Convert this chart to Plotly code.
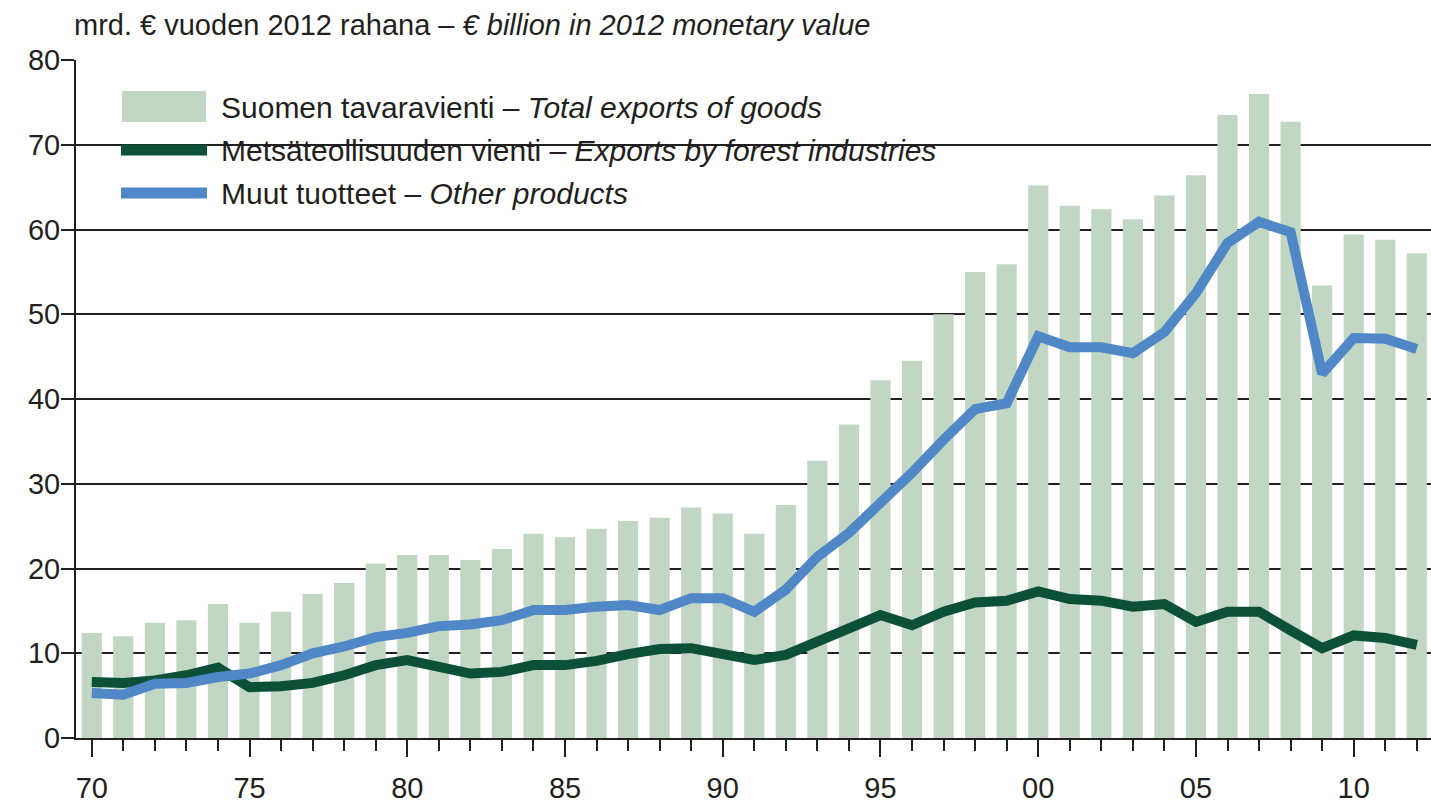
import plotly.graph_objects as go

# vuodet ja sarjat (mrd. € vuoden 2012 rahana)
vuodet = list(range(1970, 2013))

tavaravienti = [12.4, 12.0, 13.6, 13.9, 15.8, 13.6, 14.9, 17.0, 18.3, 20.6,
                21.6, 21.6, 21.0, 22.3, 24.1, 23.7, 24.7, 25.6, 26.0, 27.2,
                26.5, 24.1, 27.5, 32.7, 37.0, 42.2, 44.5, 50.0, 55.0, 55.9,
                65.2, 62.8, 62.4, 61.2, 64.0, 66.4, 73.5, 76.0, 72.7, 53.4,
                59.4, 58.8, 57.2]

metsateollisuus = [6.6, 6.5, 6.8, 7.4, 8.3, 6.0, 6.1, 6.5, 7.4, 8.6,
                   9.2, 8.4, 7.6, 7.8, 8.6, 8.6, 9.1, 9.9, 10.5, 10.6,
                   10.0, 9.2, 9.8, 11.3, 12.8, 14.5, 13.3, 14.9, 16.0, 16.2,
                   17.3, 16.4, 16.2, 15.5, 15.8, 13.7, 14.9, 14.9, 12.7, 10.6,
                   12.1, 11.8, 11.0]

muut = [5.3, 5.1, 6.4, 6.5, 7.2, 7.6, 8.6, 10.0, 10.8, 11.9,
        12.4, 13.2, 13.4, 13.9, 15.1, 15.1, 15.5, 15.7, 15.1, 16.5,
        16.5, 14.9, 17.5, 21.4, 24.2, 27.7, 31.3, 35.2, 38.8, 39.5,
        47.4, 46.1, 46.1, 45.4, 47.9, 52.5, 58.4, 60.9, 59.7, 43.0,
        47.2, 47.1, 45.9]

x_tikit = [1970, 1975, 1980, 1985, 1990, 1995, 2000, 2005, 2010]
x_tekstit = ['70', '75', '80', '85', '90', '95', '00', '05', '10']

nimet = ['Suomen tavaravienti – <i>Total exports of goods</i>',
         'Metsäteollisuuden vienti – <i>Exports by forest industries</i>',
         'Muut tuotteet – <i>Other products</i>']

otsikko = 'mrd. € vuoden 2012 rahana – <i>€ billion in 2012 monetary value</i>'

vari_palkki = '#C2D7C3'
vari_metsa = '#0B5037'
vari_muut = '#4F87C7'
vari_teksti = '#231F20'
fontti = 'Liberation Sans Narrow, Arial Narrow, Liberation Sans, Arial, sans-serif'

W, H = 1431, 811
L, R, T, B = 76, 0, 60, 73

# pikselit -> paper-koordinaatit
def px(x):
    return (x - L) / (W - L - R)

def py(y):
    return (H - B - y) / (H - T - B)

fig = go.Figure()

fig.add_trace(go.Bar(x=vuodet, y=tavaravienti, name=nimet[0],
                     marker=dict(color=vari_palkki, line=dict(width=0)),
                     showlegend=False))
fig.add_trace(go.Scatter(x=vuodet, y=metsateollisuus, name=nimet[1], mode='lines',
                         line=dict(color=vari_metsa, width=10), showlegend=False))
fig.add_trace(go.Scatter(x=vuodet, y=muut, name=nimet[2], mode='lines',
                         line=dict(color=vari_muut, width=10), showlegend=False))

# selite käsin
muodot = [
    dict(type='rect', xref='paper', yref='paper', layer='between',
         x0=px(98), x1=px(962), y0=py(76), y1=py(218),
         fillcolor='white', line=dict(width=0)),
    dict(type='rect', xref='paper', yref='paper',
         x0=px(122), x1=px(206), y0=py(91), y1=py(122),
         fillcolor=vari_palkki, line=dict(width=0)),
    dict(type='line', xref='paper', yref='paper',
         x0=px(121), x1=px(207), y0=py(150), y1=py(150),
         line=dict(color=vari_metsa, width=11)),
    dict(type='line', xref='paper', yref='paper',
         x0=px(121), x1=px(207), y0=py(193), y1=py(193),
         line=dict(color=vari_muut, width=11)),
]

merkinnat = [dict(text=otsikko, xref='paper', yref='paper', x=px(72), y=py(25),
                  xanchor='left', yanchor='middle', showarrow=False,
                  font=dict(size=29, color=vari_teksti, family=fontti))]
for nimi, yy in zip(nimet, [107, 150, 193]):
    merkinnat.append(dict(text=nimi, xref='paper', yref='paper', x=px(219), y=py(yy),
                          xanchor='left', yanchor='middle', showarrow=False,
                          font=dict(size=30, color=vari_teksti, family=fontti)))

fig.update_layout(
    width=W, height=H,
    margin=dict(l=L, r=R, t=T, b=B),
    plot_bgcolor='white', paper_bgcolor='white',
    bargap=0.36,
    font=dict(family=fontti, color=vari_teksti, size=28),
    shapes=muodot,
    annotations=merkinnat,
    xaxis=dict(range=[1969.5, 2012.45], tickvals=x_tikit, ticktext=x_tekstit,
               ticks='outside', ticklen=17, tickwidth=2, tickcolor=vari_teksti,
               minor=dict(dtick=1, tick0=1970, ticks='outside', ticklen=11,
                          tickwidth=2, tickcolor=vari_teksti, showgrid=False),
               showline=True, linecolor=vari_teksti, linewidth=2,
               showgrid=False, zeroline=False, automargin=False,
               ticklabelstandoff=6,
               tickfont=dict(size=29, color=vari_teksti, family=fontti)),
    yaxis=dict(range=[0, 80], dtick=10, tick0=0,
               ticks='outside', ticklen=13, tickwidth=2, tickcolor=vari_teksti,
               showline=True, linecolor=vari_teksti, linewidth=2,
               showgrid=True, gridcolor=vari_teksti, gridwidth=1.5,
               zeroline=False, automargin=False,
               ticklabelstandoff=-5,
               tickfont=dict(size=29, color=vari_teksti, family=fontti)),
)

fig.write_html("out.html", config={'displayModeBar': False},
               post_script="document.body.style.margin='0';")
